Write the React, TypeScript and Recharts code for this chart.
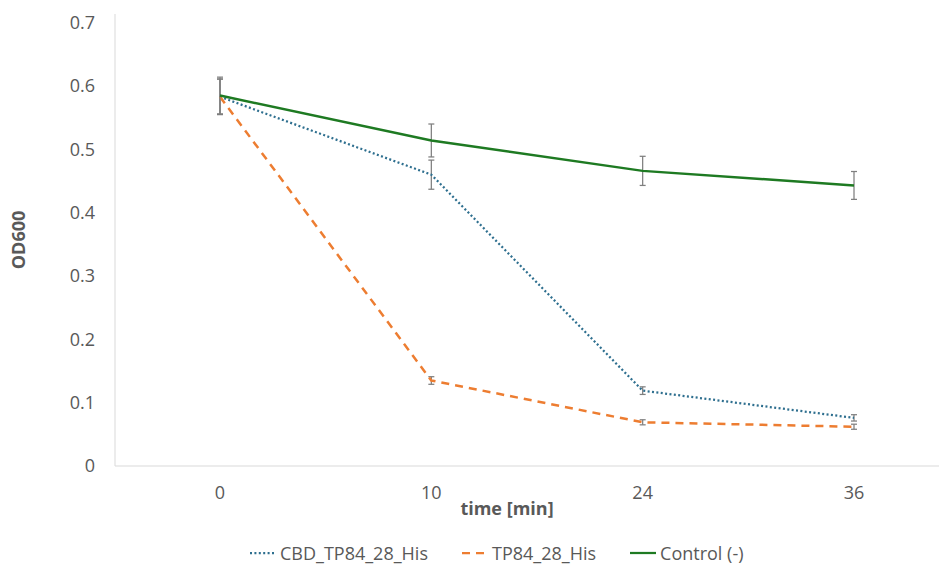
import React from 'react';
import { LineChart, Line, XAxis, YAxis, ErrorBar, Legend } from 'recharts';

const times = ['0', '10', '24', '36'];
const cbdValues = [0.583, 0.46, 0.119, 0.076];
const cbdErrors = [0.028, 0.023, 0.006, 0.005];
const tpValues = [0.583, 0.135, 0.069, 0.062];
const tpErrors = [0.028, 0.006, 0.004, 0.004];
const ctrlValues = [0.585, 0.514, 0.466, 0.443];
const ctrlErrors = [0.029, 0.026, 0.023, 0.022];
const yTicks = [0, 0.1, 0.2, 0.3, 0.4, 0.5, 0.6, 0.7];

const data = times.map((t, i) => ({
  time: t,
  cbd: cbdValues[i],
  cbdErr: cbdErrors[i],
  tp: tpValues[i],
  tpErr: tpErrors[i],
  ctrl: ctrlValues[i],
  ctrlErr: ctrlErrors[i],
}));

const FONT = '"Open Sans", "Noto Sans", sans-serif';
const TEXT = '#595959';
const BLUE = '#2E6F8F';
const ORANGE = '#ED7D31';
const GREEN = '#1E7A22';
const ERR = '#7F7F7F';

const legendItems = [
  { key: 'cbd', name: 'CBD_TP84_28_His', color: BLUE, dash: '2 2.4' },
  { key: 'tp', name: 'TP84_28_His', color: ORANGE, dash: '8 6' },
  { key: 'ctrl', name: 'Control (-)', color: GREEN, dash: undefined },
];

const renderLegend = () => (
  <div style={{ display: 'flex', alignItems: 'center', gap: 34, fontFamily: FONT, fontSize: 18, color: TEXT, lineHeight: '24px' }}>
    {legendItems.map((it) => (
      <div key={it.key} style={{ display: 'flex', alignItems: 'center' }}>
        <svg width={27} height={10} style={{ marginRight: 3 }}>
          <line x1={0} y1={5} x2={26} y2={5} stroke={it.color} strokeWidth={2.25} strokeDasharray={it.dash} />
        </svg>
        <span style={{ whiteSpace: 'nowrap' }}>{it.name}</span>
      </div>
    ))}
  </div>
);

export default function App() {
  return (
    <div style={{ width: 939, height: 557, overflow: 'hidden', position: 'relative' }}>
      <LineChart width={960} height={557} data={data} margin={{ top: 6, right: 9, bottom: 45, left: 0 }}>
        <XAxis
          dataKey="time"
          padding={{ left: 105, right: 105 }}
          axisLine={{ stroke: '#D9D9D9', strokeWidth: 1 }}
          tickLine={false}
          tickSize={0}
          tickMargin={20}
          height={30}
          tick={{ fill: TEXT, fontSize: 18, fontFamily: FONT }}
          label={{
            content: (props: any) => {
              const vb = props.viewBox || {};
              return (
                <text
                  x={vb.x + vb.width / 2 - 30}
                  y={vb.y + vb.height + 19}
                  textAnchor="middle"
                  fill={TEXT}
                  fontSize={18}
                  fontWeight="bold"
                  fontFamily={FONT}
                >
                  time [min]
                </text>
              );
            },
          }}
        />
        <YAxis
          width={107}
          domain={[0, 0.7137]}
          ticks={yTicks}
          allowDataOverflow
          axisLine={{ stroke: '#D9D9D9', strokeWidth: 1 }}
          tickLine={false}
          tickSize={0}
          tickMargin={20}
          tickFormatter={(v: number) => String(Math.round(v * 10) / 10)}
          tick={{ fill: TEXT, fontSize: 18, fontFamily: FONT }}
          label={{
            content: (props: any) => {
              const vb = props.viewBox || {};
              const cx = 10;
              const cy = vb.y + vb.height / 2;
              return (
                <text
                  x={cx}
                  y={cy}
                  transform={`rotate(-90 ${cx} ${cy})`}
                  textAnchor="middle"
                  dominantBaseline="central"
                  fill={TEXT}
                  fontSize={18}
                  fontWeight="bold"
                  fontFamily={FONT}
                >
                  OD600
                </text>
              );
            },
          }}
        />
        <Legend
          content={renderLegend}
          wrapperStyle={{ position: 'absolute', left: 242, top: 533, width: 'auto' }}
        />
        <Line
          dataKey="cbd"
          name="CBD_TP84_28_His"
          type="linear"
          stroke={BLUE}
          strokeWidth={2.25}
          strokeDasharray="2 2.4"
          dot={false}
          activeDot={false}
          isAnimationActive={false}
        >
          <ErrorBar dataKey="cbdErr" width={3} stroke={ERR} strokeWidth={1.25} direction="y" isAnimationActive={false} />
        </Line>
        <Line
          dataKey="tp"
          name="TP84_28_His"
          type="linear"
          stroke={ORANGE}
          strokeWidth={2.5}
          strokeDasharray="8 6"
          dot={false}
          activeDot={false}
          isAnimationActive={false}
        >
          <ErrorBar dataKey="tpErr" width={3} stroke={ERR} strokeWidth={1.25} direction="y" isAnimationActive={false} />
        </Line>
        <Line
          dataKey="ctrl"
          name="Control (-)"
          type="linear"
          stroke={GREEN}
          strokeWidth={2.5}
          dot={false}
          activeDot={false}
          isAnimationActive={false}
        >
          <ErrorBar dataKey="ctrlErr" width={3} stroke={ERR} strokeWidth={1.25} direction="y" isAnimationActive={false} />
        </Line>
      </LineChart>
    </div>
  );
}
